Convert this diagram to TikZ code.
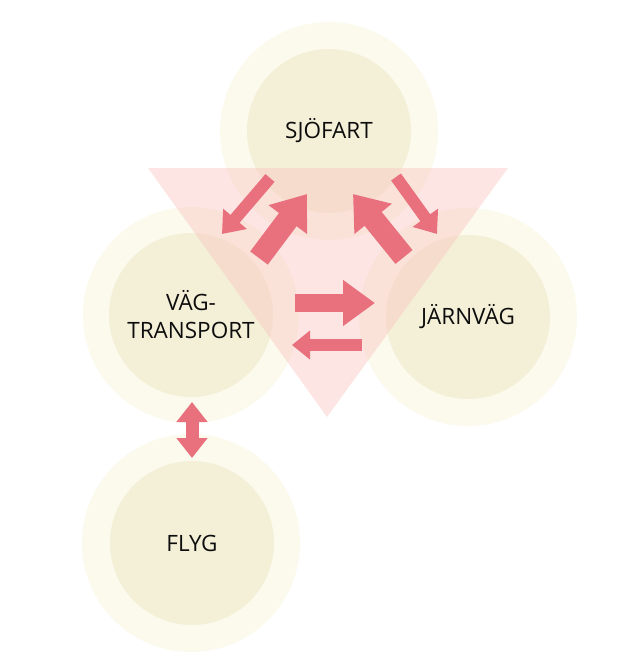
\documentclass[tikz,border=0pt]{standalone}
\usepackage{fontspec}
\setmainfont{Open Sans}
\usetikzlibrary{arrows.meta}
\definecolor{ringc}{HTML}{FBFAED}
\definecolor{corec}{HTML}{F4F0D8}
\definecolor{tric}{HTML}{F9C0BA}
\definecolor{arrc}{HTML}{E9717E}
\tikzset{
  ring/.style={fill=ringc},
  core/.style={circle, fill=corec, minimum size=164pt, inner sep=0pt, font=\fontsize{22.5}{28}\selectfont, text=black!95, align=center},
  thinarr/.style={draw=arrc, line width=12pt, -{Triangle[length=20pt, width=30pt]}},
  thickarr/.style={draw=arrc, line width=22pt, -{Triangle[length=32pt, width=46pt]}},
  bothArr/.style={draw=arrc, line width=13pt, {Triangle[length=20pt, width=30pt]}-{Triangle[length=20pt, width=30pt]}},
}
\begin{document}
\begin{tikzpicture}[x=1pt, y=-1pt]
\useasboundingbox (0,0) rectangle (634,667);
\fill[white] (0,0) rectangle (634,667);
% outer rings
\fill[ring] (329,131) circle (109);
\fill[ring] (191,315) circle (108);
\fill[ring] (468,317) circle (109);
\fill[ring] (191,543) circle (109);
% cores
\node[core] (sjo) at (329,131) {SJÖFART};
\node[core] (vag) at (191,315) {VÄG-\\TRANSPORT};
\node[core] (jarn) at (468,317) {JÄRNVÄG};
\node[core] (flyg) at (192,543) {FLYG};
% triangle
\coordinate (tl) at (148,168);
\coordinate (tr) at (508,168);
\coordinate (tb) at (327,417);
\fill[tric, fill opacity=0.4] (tl) -- (tr) -- (tb) -- cycle;
% arrow end points
\coordinate (a1s) at (270,178); \coordinate (a1e) at (222,234);
\coordinate (a2s) at (259,258); \coordinate (a2e) at (307,194);
\coordinate (a3s) at (404,257); \coordinate (a3e) at (353,194);
\coordinate (a4s) at (396,177); \coordinate (a4e) at (437,234);
\coordinate (a5s) at (295,303); \coordinate (a5e) at (375,303);
\coordinate (a6s) at (362,345); \coordinate (a6e) at (292,345);
\coordinate (a7s) at (192,402); \coordinate (a7e) at (192,458);
\draw[thinarr] (a1s) -- (a1e);
\draw[thickarr] (a2s) -- (a2e);
\draw[thickarr] (a3s) -- (a3e);
\draw[thinarr] (a4s) -- (a4e);
\draw[thickarr, line width=18pt, -{Triangle[length=32pt, width=44pt]}] (a5s) -- (a5e);
\draw[thinarr, line width=12pt, -{Triangle[length=18pt, width=28pt]}] (a6s) -- (a6e);
\draw[bothArr] (a7s) -- (a7e);
\end{tikzpicture}
\end{document}
